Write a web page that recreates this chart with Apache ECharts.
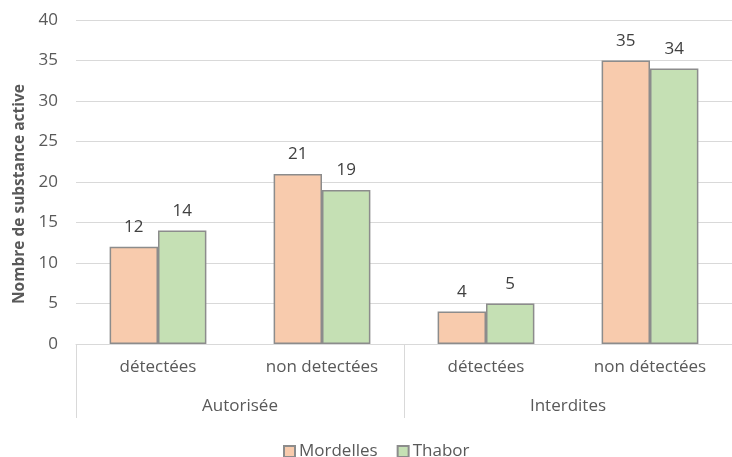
<!DOCTYPE html>
<html>
<head>
<meta charset="utf-8">
<script src="https://cdn.jsdelivr.net/npm/echarts@6/dist/echarts.min.js"></script>
<style>
  html, body { margin: 0; padding: 0; background: #fff; }
  #chart { width: 732px; height: 457px; }
</style>
</head>
<body>
<div id="chart"></div>
<script>
// Sub-categories (inner axis level) and their parent groups (outer level)
const categories = ['détectées', 'non detectées', 'détectées', 'non détectées'];
const groups = ['Autorisée', 'Interdites'];
const mordelles = [12, 21, 4, 35];
const thabor = [14, 19, 5, 34];
const yTicks = [0, 5, 10, 15, 20, 25, 30, 35, 40];

const FONT = '"Open Sans", sans-serif';
const chart = echarts.init(document.getElementById('chart'));

const barStyle = (color) => ({
  color: color,
  borderColor: '#8c8c8c',
  borderWidth: 1.5
});

const valueLabel = {
  show: true,
  position: 'top',
  distance: 11,
  color: '#404040',
  fontSize: 17,
  fontFamily: FONT
};

chart.setOption({
  animation: false,
  textStyle: { fontFamily: FONT },
  grid: { left: 76, top: 20, width: 672, height: 324, containLabel: false },
  legend: {
    top: 438,
    left: 278,
    itemWidth: 11,
    itemHeight: 11,
    itemGap: 19,
    icon: 'rect',
    textStyle: { fontSize: 17, color: '#595959', fontFamily: FONT, padding: [0, 0, 0, -1] },
    data: ['Mordelles', 'Thabor']
  },
  xAxis: [
    {
      type: 'category',
      data: categories,
      axisLine: { show: true, lineStyle: { color: '#d9d9d9', width: 1 } },
      axisTick: { show: false },
      axisLabel: { color: '#595959', fontSize: 17, margin: 15, fontFamily: FONT }
    },
    {
      type: 'category',
      position: 'bottom',
      data: groups,
      axisLine: { show: false },
      axisTick: { show: true, length: 74, lineStyle: { color: '#d9d9d9', width: 1 } },
      axisLabel: { color: '#595959', fontSize: 17, margin: 54, fontFamily: FONT }
    }
  ],
  yAxis: {
    type: 'value',
    min: yTicks[0],
    max: yTicks[yTicks.length - 1],
    interval: 5,
    name: 'Nombre de substance active',
    nameLocation: 'middle',
    nameGap: 48,
    nameTextStyle: { color: '#595959', fontSize: 15.5, fontWeight: 'bold', fontFamily: FONT, padding: [0, 24, 0, 0] },
    axisLine: { show: false },
    axisTick: { show: false },
    axisLabel: { color: '#595959', fontSize: 17, margin: 18, fontFamily: FONT },
    splitLine: { lineStyle: { color: '#d9d9d9', width: 1 } }
  },
  series: [
    {
      name: 'Mordelles',
      type: 'bar',
      xAxisIndex: 0,
      data: mordelles,
      barGap: '0%',
      barCategoryGap: '41%',
      itemStyle: barStyle('#f8cbad'),
      label: valueLabel
    },
    {
      name: 'Thabor',
      type: 'bar',
      xAxisIndex: 0,
      data: thabor,
      barGap: '0%',
      barCategoryGap: '41%',
      itemStyle: barStyle('#c5e0b4'),
      label: valueLabel
    }
  ]
});
</script>
</body>
</html>
